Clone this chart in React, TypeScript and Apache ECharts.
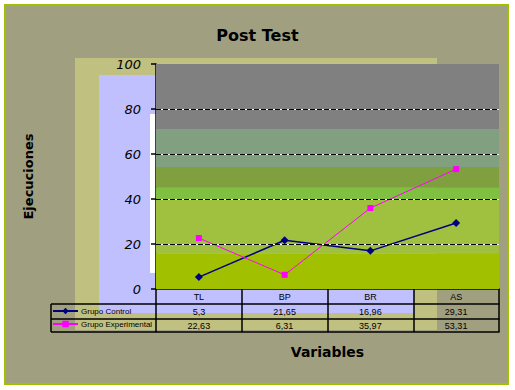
import React, { useEffect, useRef } from "react";
import * as echarts from "echarts";

const categories = ["TL", "BP", "BR", "AS"];
const seriesNames = ["Grupo Control", "Grupo Experimental"];
const controlValues = [5.3, 21.65, 16.96, 29.31];
const experimentalValues = [22.63, 6.31, 35.97, 53.31];
const yTicks = [0, 20, 40, 60, 80, 100];
const gridValues = [20, 40, 60, 80];
const bandEdges = [0, 15.7, 40, 45, 54.2, 71.1, 100];
const bandColors = ["#a0c000", "#a0c040", "#80c040", "#80a040", "#80a080", "#808080"];

const fmt = (v: number) => String(v).replace(".", ",");
const FONT = "'Comic Sans MS', 'DejaVu Sans', sans-serif";
const SMALL = "'Liberation Sans', Arial, sans-serif";

export default function App() {
  const ref = useRef<HTMLDivElement>(null);
  useEffect(() => {
    if (!ref.current) return;
    const chart = echarts.init(ref.current, null, { renderer: "svg" });
    const bands = bandColors.map((c, i) => [
      { yAxis: bandEdges[i], itemStyle: { color: c } },
      { yAxis: bandEdges[i + 1] },
    ]);
    const tickLine = { lineStyle: { color: "#000", width: 1.5 } };
    const option: any = {
      animation: false,
      backgroundColor: "#ffffff",
      title: {
        text: "Post Test",
        left: "center",
        top: 22,
        textStyle: { fontFamily: FONT, fontWeight: "bold", fontSize: 16, color: "#000" },
      },
      legend: {
        orient: "vertical",
        left: 52,
        top: 307,
        padding: 0,
        itemGap: 5,
        itemWidth: 25,
        itemHeight: 8,
        data: seriesNames,
        textStyle: { fontFamily: SMALL, fontSize: 8, color: "#000", padding: [0, 0, 0, -2] },
      },
      grid: { left: 156, right: 16, top: 64, bottom: 101 },
      graphic: [
        { type: "rect", z: -10, shape: { x: 5, y: 5, width: 503, height: 379 }, style: { fill: "#a09f80", stroke: "#a0c000", lineWidth: 2 } },
        { type: "rect", z: -9, shape: { x: 75, y: 58, width: 362, height: 272 }, style: { fill: "#c0c080" } },
        { type: "rect", z: -8, shape: { x: 99, y: 75, width: 314, height: 238 }, style: { fill: "#c0c0ff" } },
        { type: "rect", z: -7, shape: { x: 150, y: 114, width: 6, height: 159 }, style: { fill: "#ffffff" } },
        { type: "line", z: 10, shape: { x1: 51, y1: 304, x2: 156, y2: 304 }, style: { stroke: "#000", lineWidth: 1.5 } },
        { type: "line", z: 10, shape: { x1: 51, y1: 319, x2: 156, y2: 319 }, style: { stroke: "#000", lineWidth: 1.5 } },
        { type: "line", z: 10, shape: { x1: 51, y1: 332, x2: 156, y2: 332 }, style: { stroke: "#000", lineWidth: 1.5 } },
        { type: "line", z: 10, shape: { x1: 51, y1: 304, x2: 51, y2: 332 }, style: { stroke: "#000", lineWidth: 1.5 } },
      ],
      xAxis: [
        {
          type: "category",
          data: categories,
          position: "bottom",
          boundaryGap: true,
          name: "Variables",
          nameLocation: "middle",
          nameGap: 56,
          nameTextStyle: { fontFamily: FONT, fontWeight: "bold", fontSize: 14, color: "#000" },
          axisLine: tickLine,
          axisTick: { show: true, interval: 0, length: 15, ...tickLine },
          axisLabel: { interval: 0, margin: 3, fontFamily: SMALL, fontSize: 9, color: "#000" },
          splitLine: { show: false },
        },
        {
          type: "category",
          data: categories,
          position: "bottom",
          offset: 15,
          boundaryGap: true,
          axisLine: tickLine,
          axisTick: { show: true, interval: 0, length: 15, ...tickLine },
          axisLabel: { interval: 0, margin: 3, fontFamily: SMALL, fontSize: 9, color: "#000", formatter: (_v: string, i: number) => fmt(controlValues[i]) },
        },
        {
          type: "category",
          data: categories,
          position: "bottom",
          offset: 30,
          boundaryGap: true,
          axisLine: tickLine,
          axisTick: { show: true, interval: 0, length: 13, ...tickLine },
          axisLabel: { interval: 0, margin: 2, fontFamily: SMALL, fontSize: 9, color: "#000", formatter: (_v: string, i: number) => fmt(experimentalValues[i]) },
        },
        {
          type: "category",
          data: categories,
          position: "bottom",
          offset: 43,
          boundaryGap: true,
          axisLine: tickLine,
          axisTick: { show: false },
          axisLabel: { show: false },
        },
      ],
      yAxis: {
        type: "value",
        min: yTicks[0],
        max: yTicks[yTicks.length - 1],
        interval: 20,
        name: "Ejecuciones",
        nameLocation: "middle",
        nameRotate: 90,
        nameGap: 121,
        nameTextStyle: { fontFamily: FONT, fontWeight: "bold", fontSize: 13, color: "#000" },
        axisLine: { show: true, ...tickLine },
        axisTick: { show: true, length: 5, ...tickLine },
        axisLabel: { margin: 15, fontFamily: "'DejaVu Sans', sans-serif", fontStyle: "italic", fontSize: 13, color: "#000" },
        splitLine: { show: false },
      },
      series: [
        {
          type: "line",
          name: "bands",
          z: 1,
          data: [],
          silent: true,
          markArea: { silent: true, data: bands },
        },
        {
          type: "line",
          name: "gridWhite",
          z: 1.5,
          data: [],
          silent: true,
          markLine: {
            silent: true,
            symbol: "none",
            label: { show: false },
            lineStyle: { color: "#ffffff", type: "solid", width: 1.2 },
            data: gridValues.map((v) => ({ yAxis: v })),
          },
        },
        {
          type: "line",
          name: "gridBlack",
          z: 1.6,
          data: [],
          silent: true,
          markLine: {
            silent: true,
            symbol: "none",
            label: { show: false },
            lineStyle: { color: "#000000", type: [5, 2], width: 1.2 },
            data: gridValues.map((v) => ({ yAxis: v })),
          },
        },
        {
          type: "line",
          name: seriesNames[0],
          z: 3,
          data: controlValues,
          symbol: "diamond",
          symbolSize: 8,
          color: "#000080",
          lineStyle: { color: "#000080", width: 1.5 },
          itemStyle: { color: "#000080" },
        },
        {
          type: "line",
          name: seriesNames[1],
          z: 3,
          data: experimentalValues,
          symbol: "rect",
          symbolSize: 6,
          color: "#ff00ff",
          lineStyle: { color: "#ff00ff", width: 1 },
          itemStyle: { color: "#ff00ff" },
        },
      ],
    };
    chart.setOption(option);
    return () => chart.dispose();
  }, []);
  return (
    <div
      ref={ref}
      style={{ position: "fixed", left: 0, top: 0, width: 515, height: 390 }}
    />
  );
}
